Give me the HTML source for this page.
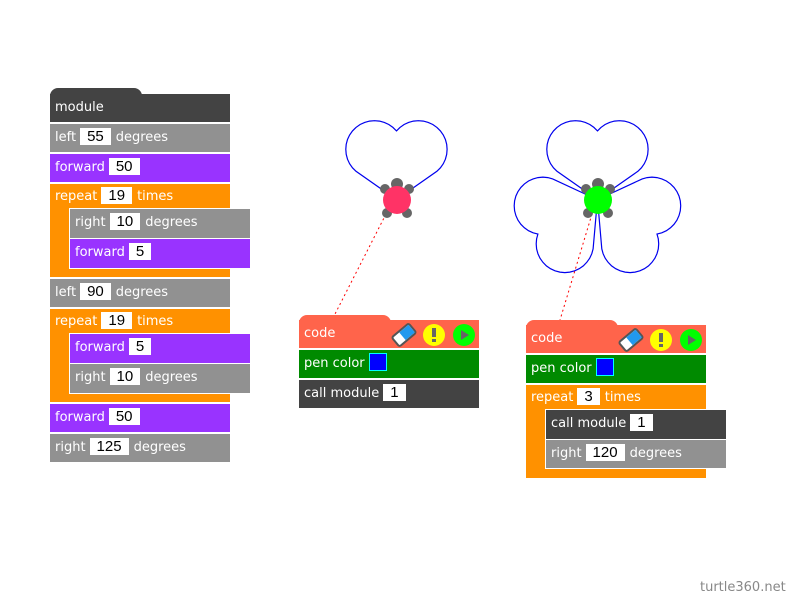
<!DOCTYPE html>
<html><head><meta charset="utf-8"><style>
body{margin:0;width:798px;height:599px;background:#fff;position:relative;overflow:hidden;font-family:"DejaVu Sans","Liberation Sans",sans-serif;}
.b{position:absolute;color:#fff;font-size:13px;line-height:28px;padding-left:5px;box-sizing:border-box;white-space:nowrap}
.v{display:inline-block;background:#fff;color:#000;font-size:15px;line-height:17px;padding:0 7px;margin:0 5px 0 4px;vertical-align:0px;font-family:"Liberation Sans",sans-serif}
.g{background:#919191}.p{background:#9933ff}.o{background:#ff9100}.d{background:#434343}.c{background:#ff644b}.gr{background:#008a00}
.in{border:1px solid #fff;border-right:none}
.tab{position:absolute;border-radius:8px 8px 0 0}
.sw{display:inline-block;width:16px;height:16px;background:#00f;border:1px solid #0ff;vertical-align:-4px;margin-left:4px}
</style></head><body>
<svg width="798" height="599" style="position:absolute;left:0;top:0">
<path id="h1" fill="none" stroke="#0000ee" stroke-width="1.2"/>
<path id="h2" fill="none" stroke="#0000ee" stroke-width="1.2"/>
<line x1="386" y1="214" x2="333" y2="318" stroke="#f00" stroke-dasharray="2,3"/>
<line x1="592" y1="214" x2="560" y2="320" stroke="#f00" stroke-dasharray="2,3"/>
<g fill="#666"><circle cx="397" cy="184" r="6"/><circle cx="385" cy="189" r="5"/><circle cx="409" cy="189" r="5"/><circle cx="387" cy="213" r="5"/><circle cx="407" cy="213" r="5"/></g>
<circle cx="397" cy="200" r="14" fill="#ff3366"/>
<g fill="#666"><circle cx="598" cy="184" r="6"/><circle cx="586" cy="189" r="5"/><circle cx="610" cy="189" r="5"/><circle cx="588" cy="213" r="5"/><circle cx="608" cy="213" r="5"/></g>
<circle cx="598" cy="200" r="14" fill="#00ff00"/>
</svg>
<script>
function mod(s){var a=[];function t(d){s.h+=d;}function f(n){s.x+=n*Math.sin(s.h*Math.PI/180);s.y-=n*Math.cos(s.h*Math.PI/180);a.push(s.x.toFixed(1)+","+s.y.toFixed(1));}
t(-55);f(50);for(var i=0;i<19;i++){t(10);f(5);}t(-90);for(i=0;i<19;i++){f(5);t(10);}f(50);t(125);return a;}
var s={x:397,y:200,h:0};document.getElementById('h1').setAttribute('d','M397,200L'+mod(s).join('L'));
s={x:598,y:200,h:0};var d='M598,200';for(var k=0;k<3;k++){d+='L'+mod(s).join('L');s.h+=120;}document.getElementById('h2').setAttribute('d',d);
</script>
<!-- left module -->
<div class="tab d" style="left:50px;top:88px;width:92px;height:10px"></div>
<div class="b d" style="left:50px;top:94px;width:180px;height:28px">module</div>
<div class="b g" style="left:50px;top:124px;width:180px;height:28px">left<span class="v">55</span>degrees</div>
<div class="b p" style="left:50px;top:154px;width:180px;height:28px">forward<span class="v">50</span></div>
<div class="b o" style="left:50px;top:184px;width:180px;height:93px;line-height:26px">repeat<span class="v">19</span>times</div>
<div class="b g in" style="left:69px;top:208px;width:181px;height:31px">right<span class="v">10</span>degrees</div>
<div class="b p in" style="left:69px;top:238px;width:181px;height:31px">forward<span class="v">5</span></div>
<div class="b g" style="left:50px;top:279px;width:180px;height:28px">left<span class="v">90</span>degrees</div>
<div class="b o" style="left:50px;top:309px;width:180px;height:93px;line-height:26px">repeat<span class="v">19</span>times</div>
<div class="b p in" style="left:69px;top:333px;width:181px;height:31px">forward<span class="v">5</span></div>
<div class="b g in" style="left:69px;top:363px;width:181px;height:31px">right<span class="v">10</span>degrees</div>
<div class="b p" style="left:50px;top:404px;width:180px;height:28px">forward<span class="v">50</span></div>
<div class="b g" style="left:50px;top:434px;width:180px;height:28px">right<span class="v">125</span>degrees</div>
<!-- code 1 -->
<div class="tab c" style="left:299px;top:315px;width:92px;height:10px"></div>
<div class="b c" style="left:299px;top:320px;width:180px;height:28px">code</div>
<div class="b gr" style="left:299px;top:350px;width:180px;height:28px">pen color<span class="sw"></span></div>
<div class="b d" style="left:299px;top:380px;width:180px;height:28px">call module<span class="v">1</span></div>
<!-- code 2 -->
<div class="tab c" style="left:526px;top:320px;width:92px;height:10px"></div>
<div class="b c" style="left:526px;top:325px;width:180px;height:28px">code</div>
<div class="b gr" style="left:526px;top:355px;width:180px;height:28px">pen color<span class="sw"></span></div>
<div class="b o" style="left:526px;top:385px;width:180px;height:93px;line-height:26px">repeat<span class="v">3</span>times</div>
<div class="b d in" style="left:545px;top:409px;width:181px;height:31px">call module<span class="v">1</span></div>
<div class="b g in" style="left:545px;top:439px;width:181px;height:30px">right<span class="v">120</span>degrees</div>
<!-- icons -->
<svg width="798" height="599" style="position:absolute;left:0;top:0">
<g id="ic">
<g transform="translate(404,335) rotate(-40)"><rect x="-11" y="-6" width="22" height="12" rx="2" fill="#fff" stroke="#555" stroke-width="2"/><rect x="-2" y="-5" width="12" height="10" fill="#2299ee"/></g>
<circle cx="434" cy="335" r="11" fill="#ffff00"/><rect x="432" y="328" width="4" height="9" fill="#666"/><rect x="432" y="339" width="4" height="3" fill="#666"/>
<circle cx="464" cy="335" r="11" fill="#00ff00"/><path d="M461,330L469,335L461,340Z" fill="#666"/>
</g>
<use href="#ic" x="227" y="5"/>
</svg>
<div style="position:absolute;left:700px;top:580px;font-size:13px;color:#888;font-family:'DejaVu Sans',sans-serif">turtle360.net</div>
</body></html>
